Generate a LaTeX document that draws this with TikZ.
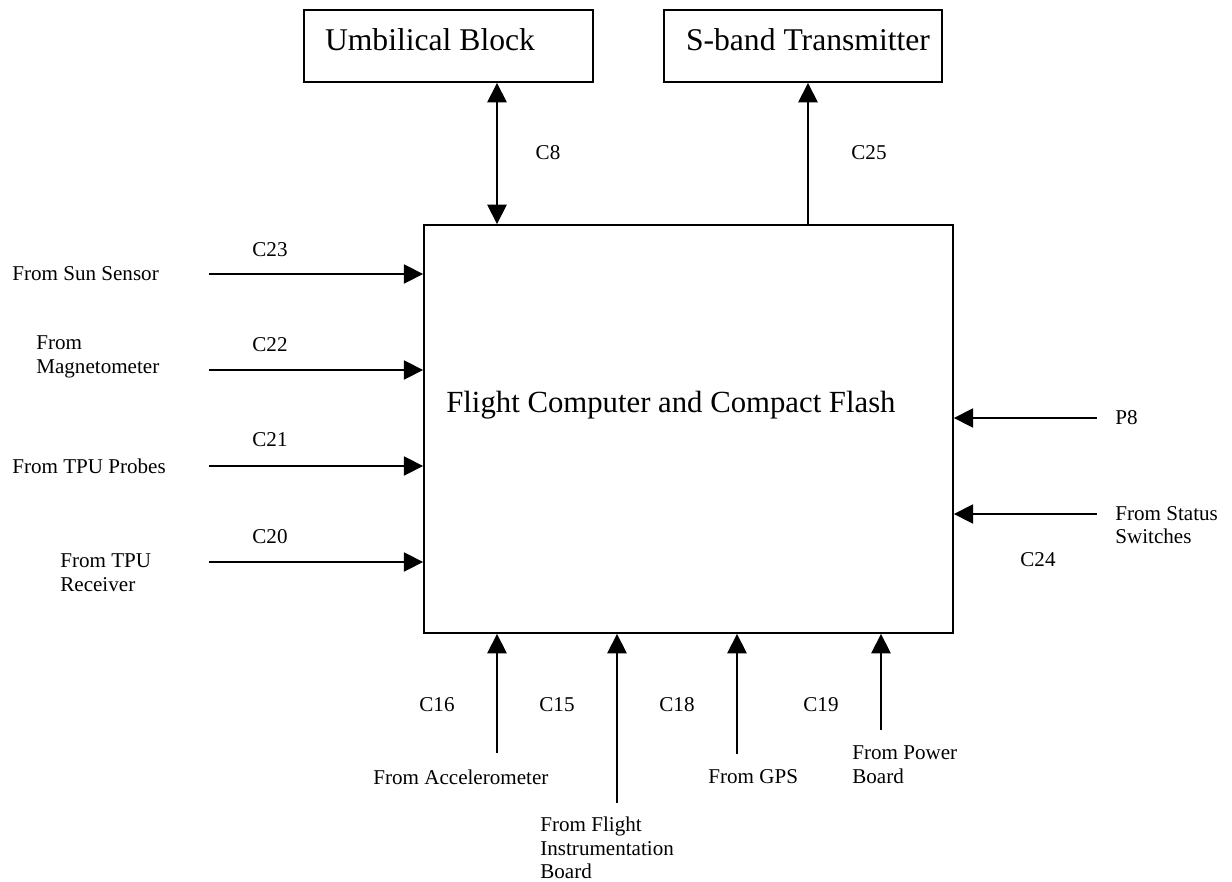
\documentclass[tikz,border=0pt]{standalone}
\usepackage{fontspec}
\setmainfont{Liberation Serif}
\usetikzlibrary{arrows.meta,positioning,calc}
\tikzset{
  blockbox/.style={draw, line width=1.1pt, minimum height=1.44cm,
    inner xsep=0pt, text height=12.8pt, text depth=7.9pt,
    font=\fontsize{18}{21.5}\selectfont},
  sig/.style={line width=0.9pt, -{Triangle[length=11pt,width=11pt]}},
  bisig/.style={line width=0.9pt, {Triangle[length=11pt,width=11pt]}-{Triangle[length=11pt,width=11pt]}},
  lbl/.style={font=\fontsize{12}{13.5}\selectfont, inner sep=0pt, align=left, anchor=west},
  clbl/.style={font=\fontsize{12}{13.5}\selectfont, inner sep=0pt},
}
\begin{document}
\begin{tikzpicture}[x=0.02cm,y=-0.02cm]
\useasboundingbox (0,0) rectangle (1232,882);
% blocks
\node[draw, line width=1.1pt, minimum width=10.58cm, minimum height=8.16cm] (fc) at (688.5,429) {};
\node[font=\fontsize{17.5}{21}\selectfont, inner sep=0pt, anchor=west] (fctext) at (446,405) {Flight Computer and Compact Flash};
\node[blockbox] (umb) at (448.5,46) {\makebox[5.78cm][l]{\hspace{0.42cm}Umbilical Block}};
\node[blockbox] (sband) at (803,46) {\makebox[5.56cm][l]{\hspace{0.44cm}S-band Transmitter}};
% top links
\coordinate (c8x) at (497,0);
\coordinate (c25x) at (808,0);
\draw[bisig] (umb.south -| c8x) -- (fc.north -| c8x);
\draw[sig] (fc.north -| c25x) -- (sband.south -| c25x);
\node[clbl] (c8) at (548,153) {C8};
\node[clbl] (c25) at (869,153) {C25};
% left inputs
\coordinate (sunS) at (209,274);
\coordinate (magS) at (209,370);
\coordinate (probS) at (209,466);
\coordinate (recS) at (209,562);
\draw[sig] (sunS) -- (sunS -| fc.west);
\draw[sig] (magS) -- (magS -| fc.west);
\draw[sig] (probS) -- (probS -| fc.west);
\draw[sig] (recS) -- (recS -| fc.west);
\node[lbl] (sun) at (12,274) {From Sun Sensor};
\node[lbl] (mag) at (36,357) {From\\Magnetometer};
\node[lbl] (prob) at (12,466) {From TPU Probes};
\node[lbl] (rec) at (60,573) {From TPU\\Receiver};
\node[clbl] (c23) at (270,250) {C23};
\node[clbl] (c22) at (270,345) {C22};
\node[clbl] (c21) at (270,440) {C21};
\node[clbl] (c20) at (270,537) {C20};
% right inputs
\coordinate (p8S) at (1097,418);
\coordinate (statS) at (1097,514);
\draw[sig] (p8S) -- (p8S -| fc.east);
\draw[sig] (statS) -- (statS -| fc.east);
\node[lbl] (p8) at (1115,418) {P8};
\node[lbl] (stat) at (1115,525) {From Status\\Switches};
\node[clbl] (c24) at (1038,560) {C24};
% bottom inputs
\coordinate (accS) at (497,753);
\coordinate (fltS) at (617,803);
\coordinate (gpsS) at (737,754);
\coordinate (pwrS) at (881,730);
\draw[sig] (accS) -- (accS |- fc.south);
\draw[sig] (fltS) -- (fltS |- fc.south);
\draw[sig] (gpsS) -- (gpsS |- fc.south);
\draw[sig] (pwrS) -- (pwrS |- fc.south);
\node[lbl] (acc) at (373,777) {From Accelerometer};
\node[lbl] (flt) at (540,848) {From Flight\\Instrumentation\\Board};
\node[lbl] (gps) at (708,777) {From GPS};
\node[lbl] (pwr) at (852,765) {From Power\\Board};
\node[clbl] (c16) at (437,705) {C16};
\node[clbl] (c15) at (557,705) {C15};
\node[clbl] (c18) at (677,705) {C18};
\node[clbl] (c19) at (821,705) {C19};
\end{tikzpicture}
\end{document}
